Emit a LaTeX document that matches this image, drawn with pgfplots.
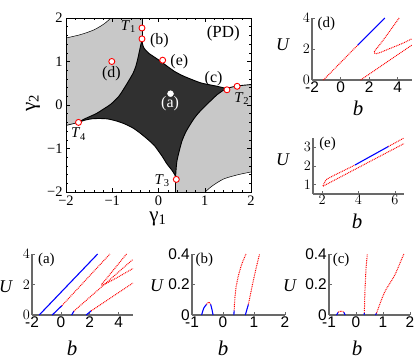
\documentclass[border=0pt]{standalone}
\usepackage{fontspec}
\setmainfont{Liberation Serif}
\setsansfont{Liberation Sans}
\usepackage{pgfplots}
\pgfplotsset{compat=1.18}

\definecolor{pdgray}{RGB}{200,200,200}
\definecolor{pddark}{RGB}{48,48,48}
\definecolor{axgray}{RGB}{105,105,105}

\pgfplotsset{
  panel/.style={scale only axis, anchor=south west,
    axis x line*=bottom, axis y line*=left,
    axis line style={axgray, line width=1.4pt},
    tick align=inside, major tick length=3bp,
    tick style={axgray, line width=0.6pt},
    ticklabel style={font=\sffamily\fontsize{15.5}{15.5}\selectfont, text=black},
    xticklabel style={inner sep=1.5pt},
    yticklabel style={inner sep=2pt},
    clip=false},
  rdot/.style={red, line width=1pt, dash pattern=on 0.9pt off 0.9pt},
  bsol/.style={blue, line width=1.1pt},
}

\begin{document}
\begin{tikzpicture}
\path[use as bounding box] (0,0) rectangle (415bp,-361bp);

% ---------- phase diagram ----------
\begin{axis}[
  at={(66bp,-192bp)}, anchor=south west, scale only axis,
  width=185bp, height=174bp,
  xmin=-2, xmax=2, ymin=-2, ymax=2,
  xtick={-2,-1,0,1,2}, ytick={-2,-1,0,1,2},
  xticklabels={−2,−1,0,1,2}, yticklabels={−2,−1,0,1,2},
  minor tick num=4,
  tick align=inside, major tick length=4bp, minor tick length=2.2bp,
  tick style={black, line width=0.5pt},
  axis line style={line width=0.8pt},
  ticklabel style={font=\fontsize{14.5}{14.5}\selectfont},
  axis on top,
]
% grey regions
\addplot[fill=pdgray, draw=none] coordinates {
  (-2,-0.47) (-1.73,-0.40) (-1.6,-0.32) (-1.35,-0.2) (-1.2,-0.1) (-1.03,0.02)
  (-0.85,0.21) (-0.67,0.51) (-0.55,0.73) (-0.49,0.89) (-0.44,1.1) (-0.40,1.3)
  (-0.357,1.5) (-0.357,2) (-1.03,2) (-1.17,1.87) (-1.39,1.73) (-1.68,1.62) (-2,1.54)};
\addplot[fill=pdgray, draw=none] coordinates {
  (2,0.47) (1.70,0.44) (1.46,0.38) (1.27,0.24) (1.15,0.12) (1.05,0.02)
  (0.91,-0.13) (0.79,-0.28) (0.69,-0.44) (0.59,-0.62) (0.51,-0.82) (0.45,-1.05)
  (0.40,-1.28) (0.38,-1.48) (0.37,-1.66) (0.37,-2) (1.01,-2) (1.15,-1.87)
  (1.41,-1.7) (1.73,-1.6) (2,-1.54)};
% dark region
\addplot[fill=pddark, draw=none] coordinates {
  (-0.357,1.5) (-0.345,1.4) (-0.32,1.32) (-0.27,1.25) (-0.2,1.18) (-0.1,1.11)
  (-0.03,1.06) (0.09,0.97) (0.19,0.89) (0.35,0.77) (0.55,0.66) (0.91,0.51)
  (1.27,0.43) (1.46,0.38)
  (1.27,0.24) (1.15,0.12) (1.05,0.02) (0.91,-0.13) (0.79,-0.28) (0.69,-0.44)
  (0.59,-0.62) (0.51,-0.82) (0.45,-1.05) (0.40,-1.28) (0.38,-1.48) (0.37,-1.66)
  (0.35,-1.6) (0.29,-1.5) (0.18,-1.35) (0.08,-1.18) (0.0,-1.06) (-0.09,-0.93)
  (-0.2,-0.82) (-0.38,-0.66) (-0.55,-0.53) (-0.74,-0.43) (-0.9,-0.37) (-1.1,-0.32)
  (-1.3,-0.31) (-1.46,-0.32) (-1.6,-0.35) (-1.73,-0.40)
  (-1.6,-0.32) (-1.35,-0.2) (-1.2,-0.1) (-1.03,0.02) (-0.85,0.21) (-0.67,0.51)
  (-0.55,0.73) (-0.49,0.89) (-0.44,1.1) (-0.40,1.3)};
% boundaries
\addplot[black, line width=0.9pt, smooth, tension=0.4] coordinates {
  (-0.357,1.5) (-0.345,1.4) (-0.32,1.32) (-0.27,1.25) (-0.2,1.18) (-0.1,1.11)
  (-0.03,1.06) (0.09,0.97) (0.19,0.89) (0.35,0.77) (0.55,0.66) (0.91,0.51)
  (1.27,0.43) (1.46,0.38)};
\addplot[black, line width=0.9pt, smooth, tension=0.4] coordinates {
  (1.46,0.38) (1.27,0.24) (1.15,0.12) (1.05,0.02) (0.91,-0.13) (0.79,-0.28)
  (0.69,-0.44) (0.59,-0.62) (0.51,-0.82) (0.45,-1.05) (0.40,-1.28) (0.38,-1.48)
  (0.37,-1.66)};
\addplot[black, line width=0.9pt, smooth, tension=0.4] coordinates {
  (0.37,-1.66) (0.35,-1.6) (0.29,-1.5) (0.18,-1.35) (0.08,-1.18) (0.0,-1.06)
  (-0.09,-0.93) (-0.2,-0.82) (-0.38,-0.66) (-0.55,-0.53) (-0.74,-0.43)
  (-0.9,-0.37) (-1.1,-0.32) (-1.3,-0.31) (-1.46,-0.32) (-1.6,-0.35) (-1.73,-0.40)};
\addplot[black, line width=0.9pt, smooth, tension=0.4] coordinates {
  (-1.73,-0.40) (-1.6,-0.32) (-1.35,-0.2) (-1.2,-0.1) (-1.03,0.02) (-0.85,0.21)
  (-0.67,0.51) (-0.55,0.73) (-0.49,0.89) (-0.44,1.1) (-0.40,1.3) (-0.357,1.5)};
\addplot[black, line width=0.9pt] coordinates {(-0.357,1.5) (-0.357,2)};
\addplot[black, line width=0.9pt] coordinates {(0.37,-1.66) (0.37,-2)};
\addplot[black, line width=0.9pt] coordinates {(1.46,0.38) (1.70,0.44) (2,0.47)};
\addplot[black, line width=0.7pt] coordinates {(-1.73,-0.40) (-2,-0.47)};
\addplot[black, line width=0.5pt, smooth] coordinates {
  (-2,1.54) (-1.68,1.62) (-1.39,1.73) (-1.17,1.87) (-1.03,2)};
\addplot[black, line width=0.5pt, smooth] coordinates {
  (1.01,-2) (1.15,-1.87) (1.41,-1.7) (1.73,-1.6) (2,-1.54)};
% points
\addplot[only marks, mark=*, mark size=3bp,
  mark options={fill=white, draw=red, line width=0.9pt}] coordinates {
  (-0.357,1.77) (-0.357,1.52) (0.09,1.03) (-1.01,1.0) (1.48,0.35) (1.70,0.43)
  (-1.73,-0.40) (0.385,-1.71)};
\addplot[only marks, mark=*, mark size=3bp, mark options={fill=white, draw=white}]
  coordinates {(0.26,0.26)};
% labels
\node[font=\fontsize{17}{17}\selectfont] at (axis cs:1.4,1.64) {(PD)};
\node[font=\fontsize{15}{15}\selectfont] at (axis cs:-0.65,1.81) {\textit{T}\textsubscript{1}};
\node[font=\fontsize{15}{15}\selectfont] at (axis cs:1.8,0.14) {\textit{T}\textsubscript{2}};
\node[font=\fontsize{15}{15}\selectfont] at (axis cs:0.08,-1.73) {\textit{T}\textsubscript{3}};
\node[font=\fontsize{15}{15}\selectfont] at (axis cs:-1.73,-0.67) {\textit{T}\textsubscript{4}};
\node[font=\fontsize{16}{16}\selectfont] at (axis cs:0.02,1.47) {(b)};
\node[font=\fontsize{16}{16}\selectfont] at (axis cs:0.45,0.99) {(e)};
\node[font=\fontsize{16}{16}\selectfont] at (axis cs:-1.02,0.71) {(d)};
\node[font=\fontsize{16}{16}\selectfont] at (axis cs:1.19,0.6) {(c)};
\node[font=\fontsize{16}{16}\selectfont, text=white] at (axis cs:0.25,0.02) {(a)};
\end{axis}
\node[font=\fontsize{21}{21}\selectfont] at (158bp,-219bp) {γ\textsubscript{1}};
\node[font=\fontsize{21}{21}\selectfont, rotate=90] at (33bp,-103bp) {γ\textsubscript{2}};

% ---------- panel (d) ----------
\begin{axis}[panel, at={(312bp,-80bp)}, width=100bp, height=62bp,
  xmin=-2, xmax=5, ymin=0, ymax=4, xtick={-2,0,2,4}, ytick={0,2,4},
  xticklabels={-2,0,2,4}]
\addplot[rdot] coordinates {(-1.2,0) (1.2,2.25)};
\addplot[bsol] coordinates {(1.2,2.25) (3.1,4)};
\addplot[rdot, smooth] coordinates {(4.1,4) (3.4,3.1) (2.8,2.35) (2.45,1.95)
  (2.35,1.78) (2.42,1.7) (2.7,1.75) (3.5,2.05) (4.3,2.35) (5,2.66)};
\addplot[rdot] coordinates {(1.4,0) (5,2.26)};
\node[font=\fontsize{15}{15}\selectfont] at (axis cs:-1.0,3.65) {(d)};
\end{axis}
\node[font=\fontsize{18}{18}\selectfont] at (283bp,-45bp) {\textit{U}};
\node[font=\fontsize{21}{21}\selectfont] at (358bp,-108bp) {\textit{b}};

% ---------- panel (e) ----------
\begin{axis}[panel, at={(313bp,-194bp)}, width=91bp, height=56bp,
  xmin=1.5, xmax=6.5, ymin=0.5, ymax=3.5, xtick={2,4,6}, ytick={1,2,3}]
\addplot[rdot, smooth] coordinates {(2.05,0.93) (2.12,1.1) (2.25,1.28) (2.5,1.42) (3.8,2.05)};
\addplot[bsol] coordinates {(3.8,2.05) (5.65,3.05)};
\addplot[rdot] coordinates {(5.65,3.05) (6.5,3.5)};
\addplot[rdot] coordinates {(2.05,0.92) (6.5,3.2)};
\node[font=\fontsize{15}{15}\selectfont] at (axis cs:2.3,3.2) {(e)};
\end{axis}
\node[font=\fontsize{18}{18}\selectfont] at (283bp,-160bp) {\textit{U}};
\node[font=\fontsize{21}{21}\selectfont] at (357bp,-221bp) {\textit{b}};

% ---------- panel (a) ----------
\begin{axis}[panel, at={(32bp,-315bp)}, width=101bp, height=61bp,
  xmin=-2, xmax=5, ymin=0, ymax=4, xtick={-2,0,2,4}, ytick={0,2,4},
  xticklabels={-2,0,2,4}]
\addplot[bsol] coordinates {(-1.5,0) (2.55,4)};
\addplot[bsol] coordinates {(-0.6,0) (0.08,0.62)};
\addplot[rdot] coordinates {(0.08,0.62) (3.4,4)};
\addplot[bsol] coordinates {(0.75,0) (0.9,0.25)};
\addplot[rdot] coordinates {(0.9,0.25) (5,3.65)};
\addplot[rdot, smooth] coordinates {(4.55,4) (3.6,2.9) (3.0,2.2) (2.82,2.02) (2.95,1.98) (3.8,2.4) (5,3.05)};
\addplot[bsol] coordinates {(1.75,0) (2.1,0.27)};
\addplot[rdot] coordinates {(2.1,0.27) (5,2.1)};
\node[font=\fontsize{15}{15}\selectfont] at (axis cs:-1.0,3.6) {(a)};
\end{axis}
\node[font=\fontsize{18}{18}\selectfont] at (6bp,-287bp) {\textit{U}};
\node[font=\fontsize{21}{21}\selectfont] at (72bp,-348bp) {\textit{b}};

% ---------- panel (b) ----------
\begin{axis}[panel, at={(192bp,-315bp)}, width=93bp, height=61bp,
  xmin=-1, xmax=2, ymin=0, ymax=0.4, xtick={-1,0,1,2}, ytick={0,0.2,0.4},
  xticklabels={-1,0,1,2}, yticklabels={0,0.2,0.4}]
\addplot[bsol, smooth] coordinates {(-0.69,0) (-0.62,0.045) (-0.53,0.07)};
\addplot[rdot, smooth] coordinates {(-0.53,0.07) (-0.46,0.085) (-0.4,0.07)};
\addplot[bsol, smooth] coordinates {(-0.4,0.07) (-0.36,0.04) (-0.32,0)};
\addplot[bsol] coordinates {(0.35,0) (0.36,0.03)};
\addplot[rdot, smooth] coordinates {(0.36,0.03) (0.38,0.1) (0.42,0.18) (0.5,0.26) (0.6,0.33) (0.74,0.4)};
\addplot[bsol] coordinates {(0.72,0) (0.82,0.07)};
\addplot[rdot, smooth] coordinates {(0.82,0.07) (0.95,0.2) (1.07,0.31) (1.18,0.4)};
\node[font=\fontsize{15}{15}\selectfont] at (axis cs:-0.6,0.36) {(b)};
\end{axis}
\node[font=\fontsize{18}{18}\selectfont] at (157bp,-286bp) {\textit{U}};
\node[font=\fontsize{21}{21}\selectfont] at (223bp,-348bp) {\textit{b}};

% ---------- panel (c) ----------
\begin{axis}[panel, at={(329bp,-315bp)}, width=81bp, height=61bp,
  xmin=-1, xmax=2, ymin=0, ymax=0.4, xtick={-1,0,1,2}, ytick={0,0.2,0.4},
  xticklabels={-1,0,1,2}, yticklabels={0,0.2,0.4}]
\addplot[bsol, smooth] coordinates {(-0.72,0) (-0.66,0.018)};
\addplot[rdot, smooth] coordinates {(-0.66,0.018) (-0.55,0.026) (-0.45,0.018)};
\addplot[bsol, smooth] coordinates {(-0.45,0.018) (-0.4,0)};
\addplot[bsol] coordinates {(0.3,0) (0.31,0.015)};
\addplot[rdot, smooth] coordinates {(0.31,0.015) (0.33,0.15) (0.37,0.3) (0.42,0.4)};
\addplot[bsol] coordinates {(0.72,0) (0.76,0.012)};
\addplot[rdot, smooth] coordinates {(0.76,0.012) (1.06,0.15) (1.43,0.26) (1.77,0.4)};
\node[font=\fontsize{15}{15}\selectfont] at (axis cs:-0.55,0.36) {(c)};
\end{axis}
\node[font=\fontsize{18}{18}\selectfont] at (290bp,-286bp) {\textit{U}};
\node[font=\fontsize{21}{21}\selectfont] at (357bp,-348bp) {\textit{b}};
\end{tikzpicture}
\end{document}
